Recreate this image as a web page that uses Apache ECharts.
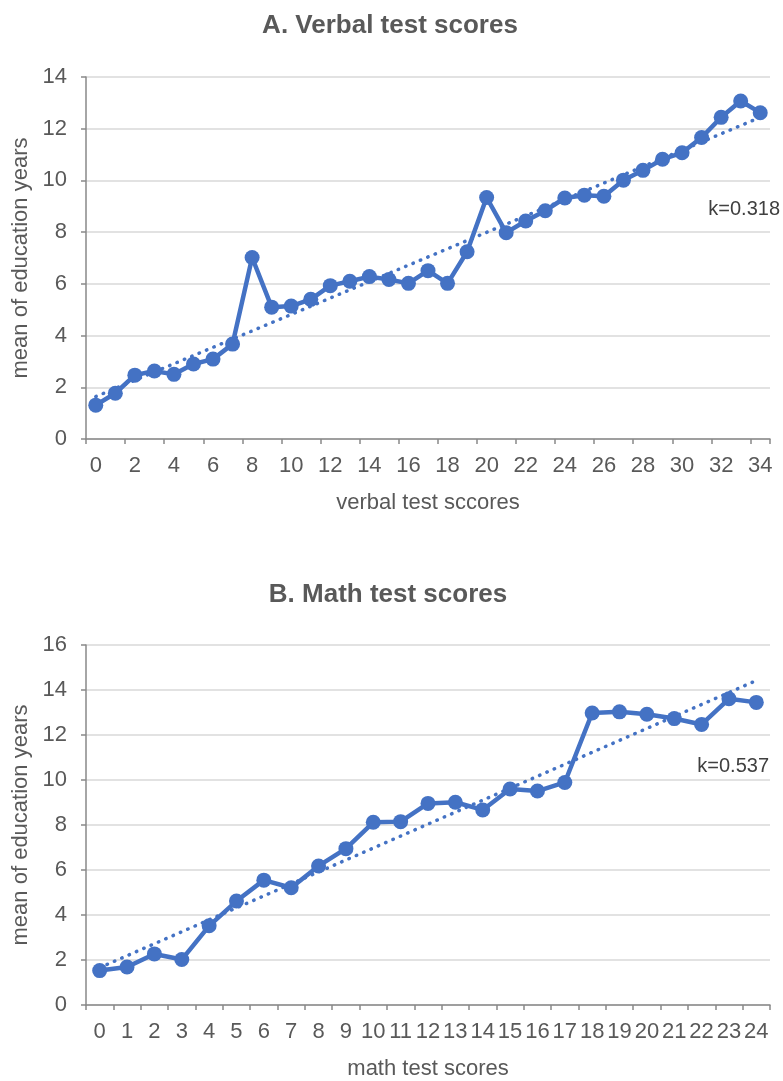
<!DOCTYPE html>
<html>
<head>
<meta charset="utf-8">
<script src="https://cdn.jsdelivr.net/npm/echarts@6/dist/echarts.min.js"></script>
<style>
  html, body { margin: 0; padding: 0; background: #fff; }
  #main { width: 783px; height: 1081px; }
</style>
</head>
<body>
<div id="main"></div>
<script>
var myChart = echarts.init(document.getElementById('main'));

// A. verbal test scores
var verbalScores = ['0', '1', '2', '3', '4', '5', '6', '7', '8', '9', '10', '11', '12', '13', '14', '15', '16', '17',
    '18', '19', '20', '21', '22', '23', '24', '25', '26', '27', '28', '29', '30', '31', '32', '33', '34'];
var verbalEdu = [1.31, 1.77, 2.47, 2.63, 2.5, 2.9, 3.09, 3.67, 7.02, 5.1, 5.14, 5.4, 5.93, 6.1, 6.28, 6.17,
    6.02, 6.51, 6.02, 7.24, 9.34, 7.98, 8.43, 8.83, 9.32, 9.43, 9.39, 10.01, 10.39, 10.82, 11.07, 11.66,
    12.44, 13.07, 12.62];
var verbalTrendEnds = [1.64, 12.44];   // fitted line at first / last score
var verbalK = 'k=0.318';

// B. math test scores
var mathScores = ['0', '1', '2', '3', '4', '5', '6', '7', '8', '9', '10', '11', '12', '13', '14', '15', '16',
    '17', '18', '19', '20', '21', '22', '23', '24'];
var mathEdu = [1.53, 1.69, 2.27, 2.02, 3.52, 4.62, 5.55, 5.21, 6.18, 6.95, 8.12, 8.15, 8.96, 9.01, 8.67,
    9.6, 9.51, 9.89, 12.98, 13.03, 12.92, 12.73, 12.47, 13.61, 13.45];
var mathTrendEnds = [1.66, 14.42];
var mathK = 'k=0.537';

var blue = '#4472C4';
var textColor = '#595959';
var font = 'Liberation Sans, Arial, sans-serif';

function trendData(n, ends) {
    var d = [];
    for (var i = 0; i < n; i++) d.push('-');
    d[0] = ends[0];
    d[n - 1] = ends[1];
    return d;
}

function xAxisOf(idx, cats, name, interval) {
    return {
        type: 'category',
        gridIndex: idx,
        data: cats,
        boundaryGap: true,
        name: name,
        nameLocation: 'middle',
        nameGap: 53,
        nameTextStyle: { color: textColor, fontSize: 22, fontFamily: font },
        axisLine: { lineStyle: { color: '#898989', width: 1.5 } },
        axisTick: { show: true, length: 5, interval: interval, lineStyle: { color: '#898989', width: 1.5 } },
        axisLabel: { interval: interval, color: textColor, fontSize: 22, fontFamily: font, margin: 16 },
        splitLine: { show: false }
    };
}

function yAxisOf(idx, max) {
    return {
        type: 'value',
        gridIndex: idx,
        min: 0,
        max: max,
        interval: 2,
        name: 'mean of education years',
        nameLocation: 'middle',
        nameRotate: 90,
        nameGap: 54,
        nameTextStyle: { color: textColor, fontSize: 22, fontFamily: font },
        axisLine: { show: true, lineStyle: { color: '#898989', width: 1.5 } },
        axisTick: { show: true, length: 5, lineStyle: { color: '#898989', width: 1.5 } },
        axisLabel: { color: textColor, fontSize: 22, fontFamily: font, margin: 19 },
        splitLine: { lineStyle: { color: '#D9D9D9', width: 1.5 } }
    };
}

function mainLine(idx, data) {
    return {
        type: 'line',
        xAxisIndex: idx,
        yAxisIndex: idx,
        data: data,
        symbol: 'circle',
        symbolSize: 15,
        showAllSymbol: true,
        lineStyle: { color: blue, width: 4.5 },
        itemStyle: { color: blue },
        z: 3
    };
}

function trendLine(idx, n, ends) {
    return {
        type: 'line',
        xAxisIndex: idx,
        yAxisIndex: idx,
        data: trendData(n, ends),
        connectNulls: true,
        symbol: 'none',
        lineStyle: { color: blue, width: 3.5, type: [0.5, 7.5], cap: 'round' },
        z: 2
    };
}

option = {
    backgroundColor: '#fff',
    animation: false,
    title: [
        { text: 'A. Verbal test scores', left: 385, top: 8, textAlign: 'center',
          textStyle: { color: textColor, fontSize: 26, fontWeight: 'bold', fontFamily: font } },
        { text: 'B. Math test scores', left: 383, top: 577, textAlign: 'center',
          textStyle: { color: textColor, fontSize: 26, fontWeight: 'bold', fontFamily: font } }
    ],
    grid: [
        { left: 86, top: 77, width: 684, height: 362 },
        { left: 86, top: 645, width: 684, height: 362 }
    ],
    xAxis: [
        xAxisOf(0, verbalScores, 'verbal test sccores', 1),
        xAxisOf(1, mathScores, 'math test scores', 0)
    ],
    yAxis: [yAxisOf(0, 14), yAxisOf(1, 16)],
    graphic: [
        { type: 'text', right: 3, top: 199,
          style: { text: verbalK, fill: '#404040', fontSize: 20, fontFamily: font } },
        { type: 'text', right: 14, top: 756,
          style: { text: mathK, fill: '#404040', fontSize: 20, fontFamily: font } }
    ],
    series: [
        trendLine(0, verbalScores.length, verbalTrendEnds),
        mainLine(0, verbalEdu),
        trendLine(1, mathScores.length, mathTrendEnds),
        mainLine(1, mathEdu)
    ]
};
myChart.setOption(option);
</script>
</body>
</html>
